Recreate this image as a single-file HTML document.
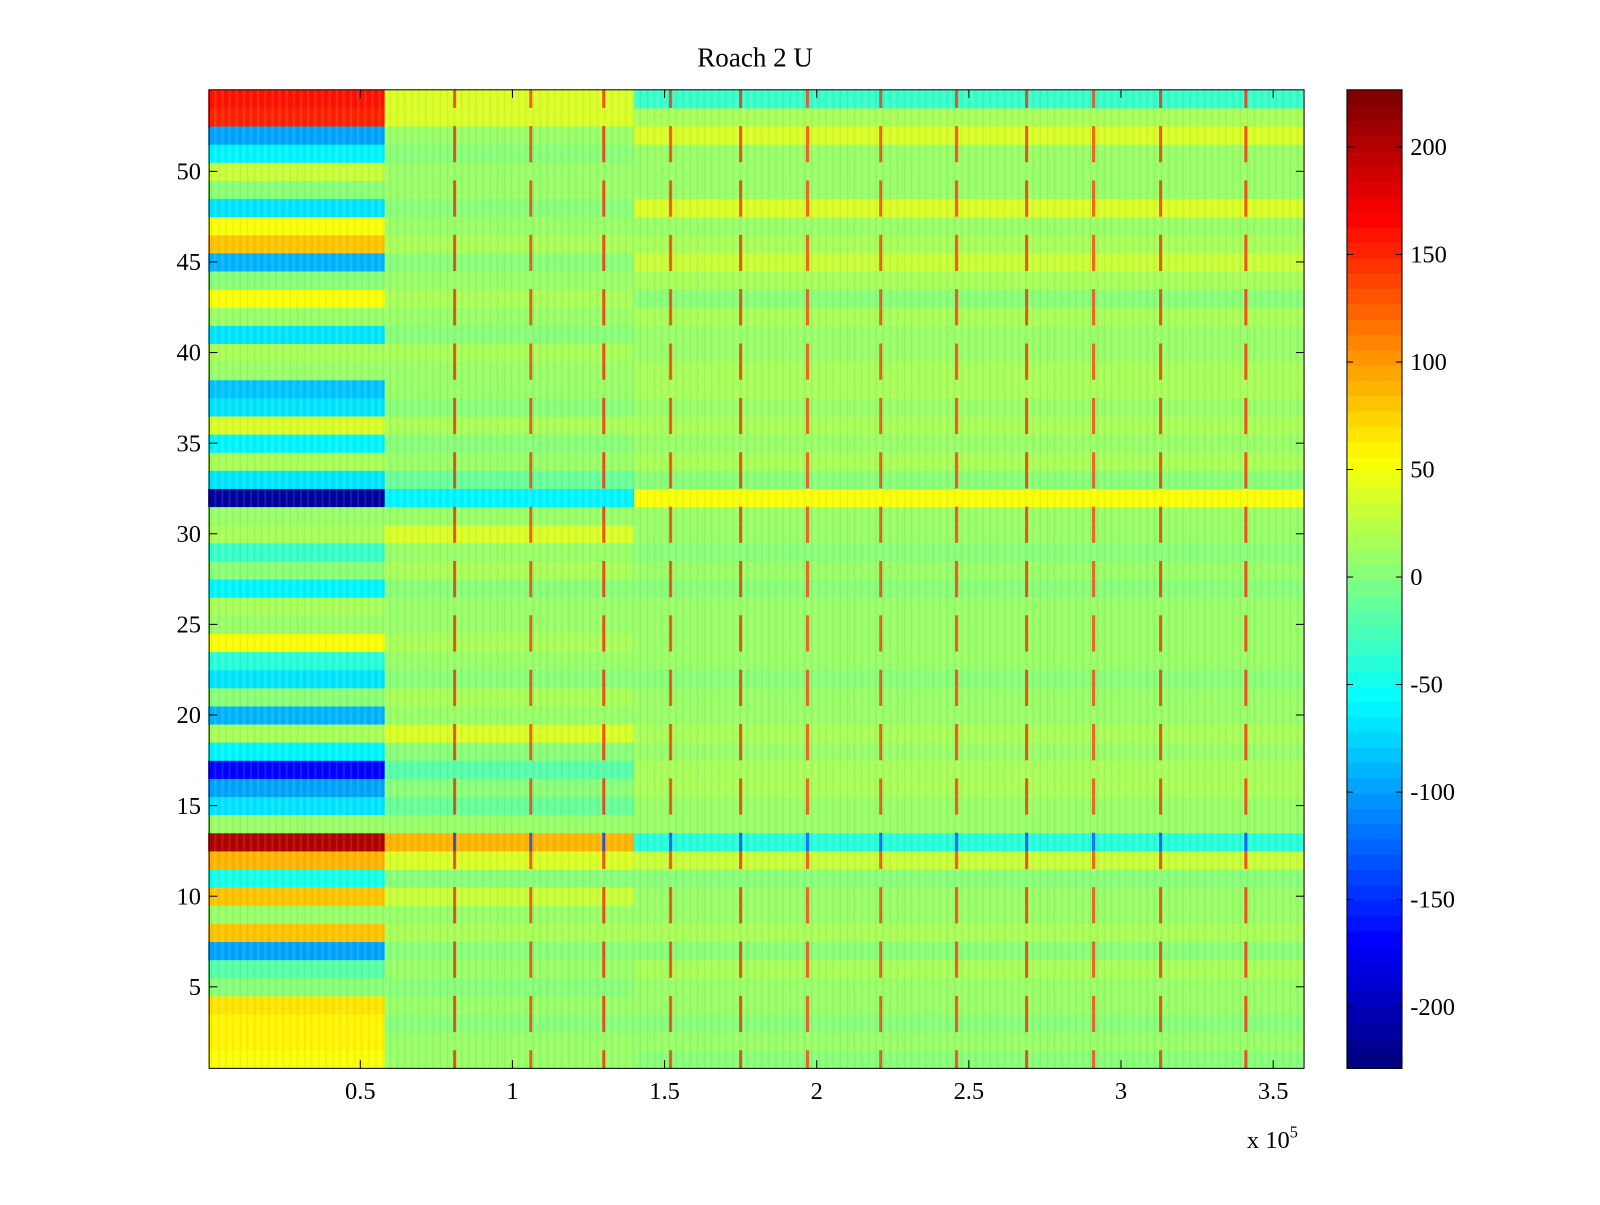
<!DOCTYPE html>
<html><head><meta charset="utf-8"><style>
body{margin:0;background:#fff;font-family:"Liberation Serif",serif;}
svg text{font-family:"Liberation Serif",serif;fill:#000;}
</style></head><body>
<svg width="1600" height="1200">
<defs>
<pattern id="tex" width="7" height="18" patternUnits="userSpaceOnUse">
<rect x="0" y="0" width="2" height="18" fill="#fff" opacity="0.10"/>
<rect x="4" y="0" width="1" height="18" fill="#000" opacity="0.06"/>
</pattern>
</defs>
<g id="chart" transform="scale(1.0204)"></g>
</svg>
<script>
// data: row values (rows 1..54, bottom to top) for three x-segments
const leftVals=[50,60,60,70,0,-20,-100,80,10,80,-50,90,200,10,-70,-100,-170,-60,20,-90,0,-70,-40,50,10,20,-60,0,-30,20,10,-210,-70,20,-60,40,-70,-80,10,20,-70,10,50,0,-90,80,50,-70,0,30,-60,-100,150,160];
const midVals=[10,10,0,10,0,10,0,20,10,30,0,40,90,10,-10,0,-20,0,40,10,20,0,10,20,10,10,0,20,10,40,10,-60,-10,10,0,20,0,10,10,20,0,10,20,10,0,20,10,0,10,10,0,10,40,40];
const rightVals=[0,10,0,10,10,20,0,20,10,10,0,30,-40,10,10,20,20,10,20,10,10,0,10,10,10,10,0,10,0,10,10,50,0,20,10,20,10,20,20,10,10,20,0,20,30,20,10,40,10,10,10,40,20,-30];
const segBreaks=[0,0.58,1.4,3.6]; // x10^5
const spikeX=[0.81,1.06,1.30,1.52,1.75,1.97,2.21,2.46,2.69,2.91,3.13,3.41];
const xTicks=[0.5,1,1.5,2,2.5,3,3.5];
const yTicks=[5,10,15,20,25,30,35,40,45,50];
const cTicks=[200,150,100,50,0,-50,-100,-150,-200];
const NS="http://www.w3.org/2000/svg";
const svg=document.getElementById('chart');
const L=205,R=1278,T=88,B=1047;
const xs=v=>204+v*298.2;
const ys=v=>B-(v-0.5)*(B-T)/54;
const cMin=-228.5,cMax=226.6;
function jet(v){let t=(v-cMin)/(cMax-cMin);t=Math.max(0,Math.min(1,t));t=Math.floor(t*63.999)/63;
 const f=x=>Math.round(255*Math.max(0,Math.min(1,x)));
 return `rgb(${f(1.5-Math.abs(4*t-3))},${f(1.5-Math.abs(4*t-2))},${f(1.5-Math.abs(4*t-1))})`;}
function el(tag,a,p){const e=document.createElementNS(NS,tag);for(const k in a)e.setAttribute(k,a[k]);(p||svg).appendChild(e);return e;}
const g=el('g',{});


const segs=[leftVals,midVals,rightVals];
for(let s=0;s<3;s++){for(let r=0;r<54;r++){
 const c=el('rect',{x:xs(segBreaks[s]),y:ys(r+1.5),width:xs(segBreaks[s+1])-xs(segBreaks[s])+0.5,height:(B-T)/54+0.5,fill:jet(segs[s][r])},g);
 
 
}}
for(const sx of spikeX){for(let r=0;r<54;r++){if(r%3===1)continue;
 const sp=el('rect',{x:xs(sx)-1.5,y:ys(r+1.5),width:3,height:(B-T)/54,fill:jet(r===12||r===31?-150:150),opacity:0.75},g);
 
 
}}
el('rect',{x:L,y:T,width:R-L,height:B-T,fill:'url(#tex)'});
const fr=el('rect',{x:L,y:T,width:R-L,height:B-T,fill:'none',stroke:'#000','stroke-width':1});


for(const t of xTicks){const x=xs(t);
 el('line',{x1:x,y1:B,x2:x,y2:B-8,stroke:'#000'});el('line',{x1:x,y1:T,x2:x,y2:T+8,stroke:'#000'});
 const tx=el('text',{x:x,y:B+30,'text-anchor':'middle','font-size':24});tx.textContent=t;
 
 }
for(const t of yTicks){const y=ys(t);
 el('line',{x1:L,y1:y,x2:L+8,y2:y,stroke:'#000'});el('line',{x1:R,y1:y,x2:R-8,y2:y,stroke:'#000'});
 const tx=el('text',{x:L-8,y:y+8,'text-anchor':'end','font-size':24});tx.textContent=t;
 
 }
const ti=el('text',{x:740,y:65,'text-anchor':'middle','font-size':26.5});ti.textContent='Roach 2 U';


const ex=el('text',{x:1222,y:1125,'font-size':24});ex.innerHTML='x 10<tspan dy="-10" font-size="16">5</tspan>';


// colorbar
const CL=1320,CR=1374;
const cb=el('g',{});


const cy=v=>B-(v-cMin)/(cMax-cMin)*(B-T);
for(let i=0;i<64;i++){const v0=cMin+i*(cMax-cMin)/64,v1=cMin+(i+1)*(cMax-cMin)/64;
 el('rect',{x:CL,y:cy(v1),width:CR-CL,height:cy(v0)-cy(v1)+0.5,fill:jet((v0+v1)/2)},cb);}
el('rect',{x:CL,y:T,width:CR-CL,height:B-T,fill:'none',stroke:'#000'},cb);
for(const t of cTicks){const y=cy(t);
 el('line',{x1:CL,y1:y,x2:CL+6,y2:y,stroke:'#000'},cb);el('line',{x1:CR,y1:y,x2:CR-6,y2:y,stroke:'#000'},cb);
 const tx=el('text',{x:CR+8,y:y+8,'font-size':24},cb);tx.textContent=t;
 
 }
</script>
</body></html>
